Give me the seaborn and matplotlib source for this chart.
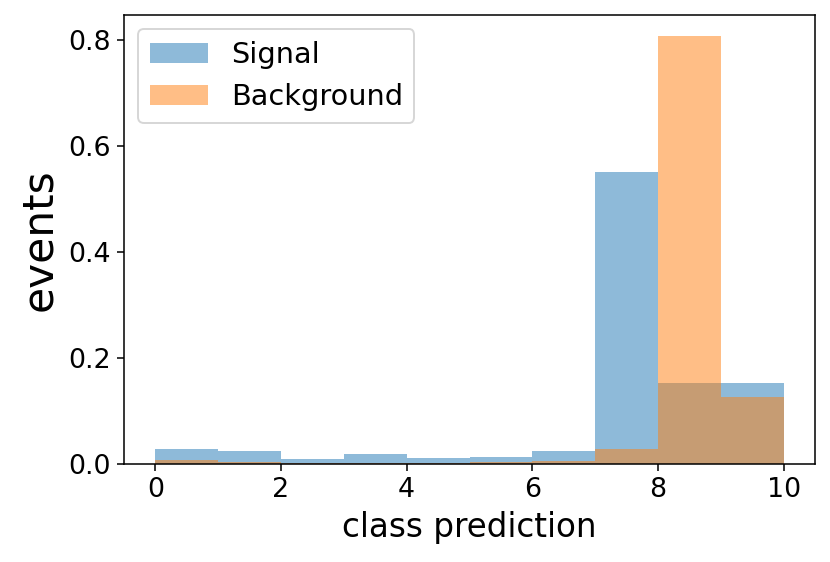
import numpy as np
import matplotlib
matplotlib.use("Agg")
import matplotlib.pyplot as plt
import seaborn as sns

bin_edges = [0, 1, 2, 3, 4, 5, 6, 7, 8, 9, 10]
signal = [0.028, 0.025, 0.010, 0.018, 0.012, 0.013, 0.025, 0.5515, 0.153, 0.153]
background = [0.0076, 0.0045, 0.002, 0.0025, 0.002, 0.003, 0.006, 0.028, 0.8075, 0.126]
labels = ["Signal", "Background"]

centers = [(a + b) / 2 for a, b in zip(bin_edges[:-1], bin_edges[1:])]

DPI = 830 / 6.0
fig = plt.figure(figsize=(6.0, 562 / DPI), dpi=DPI)
ax = fig.add_axes([124 / 830, 1 - 464 / 562, (815 - 124) / 830, (464 - 15) / 562])

sns.histplot(x=centers, weights=signal, bins=bin_edges, stat="count",
             color="#1f77b4", alpha=0.5, linewidth=0, label=labels[0], ax=ax)
sns.histplot(x=centers, weights=background, bins=bin_edges, stat="count",
             color="#ff7f0e", alpha=0.5, linewidth=0, label=labels[1], ax=ax)

ax.set_xlim(-0.5, 10.5)
ax.set_ylim(0, 0.8475)
ax.set_xticks([0, 2, 4, 6, 8, 10])
ax.set_yticks([0.0, 0.2, 0.4, 0.6, 0.8])
ax.tick_params(labelsize=14)
ax.set_xlabel("class prediction", fontsize=17)
ax.set_ylabel("events", fontsize=22)
ax.legend(loc="upper left", fontsize=15)

fig.savefig("out.png", dpi=DPI)
